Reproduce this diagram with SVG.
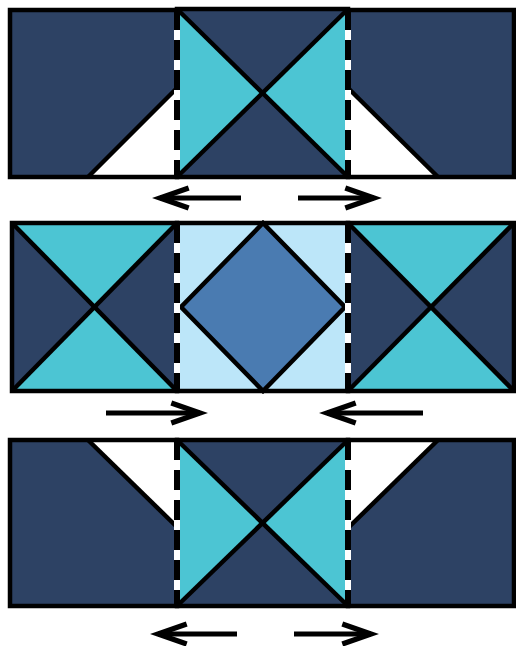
<svg xmlns="http://www.w3.org/2000/svg" width="516" height="646" viewBox="0 0 516 646">
<style>
.navy{fill:#2D4264}
.cyan{fill:#4CC5D3}
.lb{fill:#BCE6F9}
.mb{fill:#4A7BB1}
.wh{fill:#FFFFFF}
.ln{fill:none;stroke:#000;stroke-width:4.5;stroke-linejoin:miter}
.sepw{stroke:#FFF;stroke-width:6}
.sepb{stroke:#000;stroke-width:6;stroke-dasharray:20 10}
.arr{fill:none;stroke:#000;stroke-width:5}
</style>
<defs>
<marker id="head" markerUnits="userSpaceOnUse" markerWidth="44" markerHeight="34" viewBox="-36 -16 46 32" refX="0" refY="0" orient="auto">
<path d="M -30 -10.5 L 0 0 L -30 10.5" fill="none" stroke="#000" stroke-width="5.5" stroke-miterlimit="10"/>
</marker>
</defs>
<rect width="516" height="646" fill="#FFF"/>

<!-- Row 1 -->
<g id="r1-left">
<rect x="10" y="10" width="167" height="167" class="navy"/>
<polygon points="88,177 177,88 177,177" class="wh"/>
<line x1="88" y1="177" x2="177" y2="88" class="ln"/>
<rect x="10" y="10" width="167" height="167" class="ln"/>
</g>
<g id="r1-mid">
<rect x="177" y="9" width="171" height="168" class="navy"/>
<polygon points="177,9 262.5,93 177,177" class="cyan"/>
<polygon points="348,9 262.5,93 348,177" class="cyan"/>
<line x1="177" y1="9" x2="348" y2="177" class="ln"/>
<line x1="348" y1="9" x2="177" y2="177" class="ln"/>
<rect x="177" y="9" width="171" height="168" class="ln"/>
</g>
<g id="r1-right">
<rect x="348" y="10" width="166" height="167" class="navy"/>
<polygon points="348,88 348,177 438,177" class="wh"/>
<line x1="348" y1="88" x2="438" y2="177" class="ln"/>
<rect x="348" y="10" width="166" height="167" class="ln"/>
</g>

<!-- Row 2 -->
<g id="r2-left">
<rect x="12" y="223" width="165" height="168" class="navy"/>
<polygon points="12,223 177,223 94.5,307" class="cyan"/>
<polygon points="12,391 177,391 94.5,307" class="cyan"/>
<line x1="12" y1="223" x2="177" y2="391" class="ln"/>
<line x1="177" y1="223" x2="12" y2="391" class="ln"/>
<rect x="12" y="223" width="165" height="168" class="ln"/>
</g>
<g id="r2-mid">
<rect x="177" y="223" width="171" height="168" class="lb"/>
<polygon points="263,223 345,307 263,391 181,307" class="mb"/>
<polygon points="263,223 345,307 263,391 181,307" class="ln"/>
<rect x="177" y="223" width="171" height="168" class="ln"/>
</g>
<g id="r2-right">
<rect x="348" y="223" width="166" height="168" class="navy"/>
<polygon points="348,223 514,223 431,307" class="cyan"/>
<polygon points="348,391 514,391 431,307" class="cyan"/>
<line x1="348" y1="223" x2="514" y2="391" class="ln"/>
<line x1="514" y1="223" x2="348" y2="391" class="ln"/>
<rect x="348" y="223" width="166" height="168" class="ln"/>
</g>

<!-- Row 3 -->
<g id="r3-left">
<rect x="10" y="440" width="167" height="166" class="navy"/>
<polygon points="88,440 177,440 177,527" class="wh"/>
<line x1="88" y1="440" x2="177" y2="527" class="ln"/>
<rect x="10" y="440" width="167" height="166" class="ln"/>
</g>
<g id="r3-mid">
<rect x="177" y="440" width="171" height="166" class="navy"/>
<polygon points="177,440 262.5,523 177,606" class="cyan"/>
<polygon points="348,440 262.5,523 348,606" class="cyan"/>
<line x1="177" y1="440" x2="348" y2="606" class="ln"/>
<line x1="348" y1="440" x2="177" y2="606" class="ln"/>
<rect x="177" y="440" width="171" height="166" class="ln"/>
</g>
<g id="r3-right">
<rect x="348" y="440" width="166" height="166" class="navy"/>
<polygon points="348,440 438,440 348,528" class="wh"/>
<line x1="438" y1="440" x2="348" y2="528" class="ln"/>
<rect x="348" y="440" width="166" height="166" class="ln"/>
</g>

<!-- Seams -->
<g id="seams">
<line x1="177" y1="10" x2="177" y2="177" class="sepw"/>
<line x1="177" y1="10" x2="177" y2="177" class="sepb"/>
<line x1="348" y1="10" x2="348" y2="177" class="sepw"/>
<line x1="348" y1="10" x2="348" y2="177" class="sepb"/>
<line x1="177" y1="223" x2="177" y2="391" class="sepw"/>
<line x1="177" y1="223" x2="177" y2="391" class="sepb"/>
<line x1="348" y1="223" x2="348" y2="391" class="sepw"/>
<line x1="348" y1="223" x2="348" y2="391" class="sepb"/>
<line x1="177" y1="440" x2="177" y2="606" class="sepw"/>
<line x1="177" y1="440" x2="177" y2="606" class="sepb"/>
<line x1="348" y1="440" x2="348" y2="606" class="sepw"/>
<line x1="348" y1="440" x2="348" y2="606" class="sepb"/>
</g>

<!-- Arrows -->
<g id="connectors">
<line x1="241" y1="198" x2="160" y2="198" class="arr" marker-end="url(#head)"/>
<line x1="298" y1="198" x2="374" y2="198" class="arr" marker-end="url(#head)"/>
<line x1="106" y1="413" x2="200" y2="413" class="arr" marker-end="url(#head)"/>
<line x1="423" y1="413" x2="327" y2="413" class="arr" marker-end="url(#head)"/>
<line x1="237" y1="634" x2="158" y2="634" class="arr" marker-end="url(#head)"/>
<line x1="294" y1="634" x2="371" y2="634" class="arr" marker-end="url(#head)"/>
</g>
</svg>
